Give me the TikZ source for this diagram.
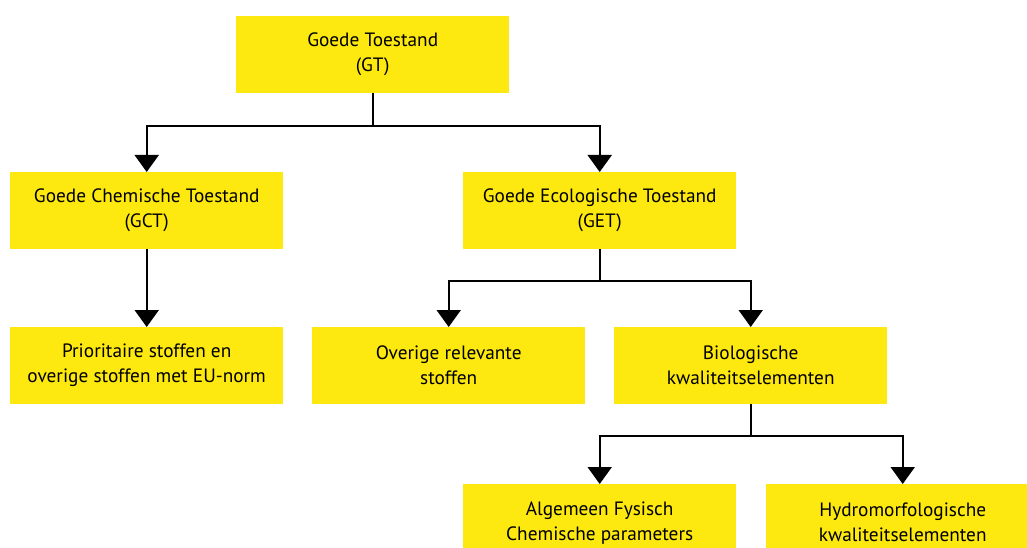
\documentclass[tikz,border=0pt]{standalone}
\usepackage{fontspec}
\setmainfont{PT Sans}
\usetikzlibrary{arrows.meta}
\definecolor{ryellow}{RGB}{253,233,16}
\begin{document}
\begin{tikzpicture}[x=1pt,y=-1pt,
  box/.style={fill=ryellow, minimum width=273pt, minimum height=77pt, align=center,
    inner sep=0pt, font=\fontsize{19.3}{25}\selectfont, anchor=north west},
  conn/.style={line width=2pt, -{Triangle[width=24pt,length=17pt]}}]
\useasboundingbox (0,0) rectangle (1027,548);
\node[box] (gt)   at (236,16)  {Goede Toestand\\(GT)};
\node[box] (gct)  at (10,172)  {Goede Chemische Toestand\\(GCT)};
\node[box] (get)  at (463,172) {Goede Ecologische Toestand\\(GET)};
\node[box] (prio) at (10,327)  {Prioritaire stoffen en\\overige stoffen met EU-norm};
\node[box] (ovr)  at (312,327) {Overige relevante\\stoffen};
\node[box] (bio)  at (614,327) {Biologische\\kwaliteitselementen};
\node[box] (alg)  at (463,484) {Algemeen Fysisch\\Chemische parameters};
\node[box] (hyd)  at (766,484) {Hydromorfologische\\kwaliteitselementen};
\draw[conn] (gt.south) -- ++(0,32.5) -| (gct.north);
\draw[conn] (gt.south) -- ++(0,32.5) -| (get.north);
\draw[conn] (gct.south) -- (prio.north);
\draw[conn] (get.south) -- ++(0,32) -| (ovr.north);
\draw[conn] (get.south) -- ++(0,32) -| (bio.north);
\draw[conn] (bio.south) -- ++(0,32) -| (alg.north);
\draw[conn] (bio.south) -- ++(0,32) -| (hyd.north);
\end{tikzpicture}
\end{document}
